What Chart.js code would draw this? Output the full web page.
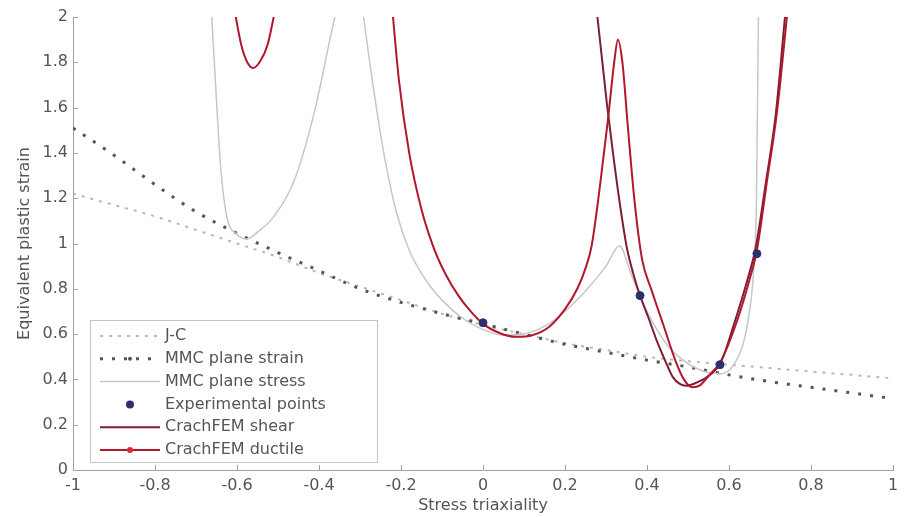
<!DOCTYPE html>
<html>
<head>
<meta charset="utf-8">
<script src="https://cdn.jsdelivr.net/npm/chart.js@4.4.0/dist/chart.umd.min.js"></script>
<style>
  html, body { margin: 0; padding: 0; background: #fff; }
</style>
</head>
<body>
<canvas id="chart" width="909" height="517"></canvas>
<script>
// values (stress triaxiality -> equivalent plastic strain)
const xTicks = [-1, -0.8, -0.6, -0.4, -0.2, 0, 0.2, 0.4, 0.6, 0.8, 1];
const yTicks = [0, 0.2, 0.4, 0.6, 0.8, 1, 1.2, 1.4, 1.6, 1.8, 2];

const jcX = [-1, -0.9, -0.8, -0.7, -0.6, -0.5, -0.4, -0.3, -0.2, -0.1, 0, 0.1, 0.2, 0.3, 0.4, 0.5, 0.6, 0.7, 0.8, 0.9, 1];
const jcY = [1.22, 1.17, 1.12, 1.06, 1.0, 0.94, 0.87, 0.81, 0.75, 0.69, 0.64, 0.6, 0.56, 0.53, 0.5, 0.48, 0.465, 0.45, 0.435, 0.42, 0.405];

const mmcStrainX = [-1, -0.9, -0.8, -0.7, -0.6, -0.5, -0.4, -0.3, -0.2, -0.1, 0, 0.1, 0.2, 0.3, 0.4, 0.5, 0.6, 0.7, 0.8, 0.9, 1];
const mmcStrainY = [1.51, 1.39, 1.26, 1.14, 1.045, 0.96, 0.88, 0.8, 0.74, 0.69, 0.645, 0.6, 0.555, 0.52, 0.485, 0.455, 0.42, 0.39, 0.365, 0.34, 0.315];

// MMC plane stress, compression branch and tension branch
const mmcStressAX = [-0.663, -0.65, -0.64, -0.625, -0.6, -0.576, -0.55, -0.51, -0.46, -0.41, -0.37, -0.355];
const mmcStressAY = [2.05, 1.63, 1.34, 1.12, 1.04, 1.02, 1.05, 1.12, 1.28, 1.59, 1.93, 2.05];
const mmcStressBX = [-0.295, -0.27, -0.24, -0.21, -0.18, -0.14, -0.1, -0.05, 0, 0.05, 0.1, 0.15, 0.2, 0.25, 0.3, 0.333, 0.36, 0.4, 0.45, 0.5, 0.55, 0.58, 0.61, 0.635, 0.65, 0.66, 0.667, 0.672];
const mmcStressBY = [2.05, 1.72, 1.38, 1.13, 0.97, 0.84, 0.75, 0.67, 0.62, 0.595, 0.6, 0.635, 0.7, 0.79, 0.9, 0.99, 0.87, 0.7, 0.55, 0.47, 0.43, 0.425, 0.46, 0.56, 0.7, 0.88, 1.2, 2.05];

const expX = [0, 0.383, 0.578, 0.668];
const expY = [0.65, 0.77, 0.465, 0.955];

const shearX = [0.276, 0.29, 0.302, 0.317, 0.335, 0.351, 0.366, 0.383, 0.404, 0.424, 0.445, 0.463, 0.48, 0.495, 0.52, 0.55, 0.58, 0.615, 0.645, 0.665, 0.69, 0.714, 0.739];
const shearY = [2.05, 1.82, 1.62, 1.4, 1.16, 0.98, 0.87, 0.77, 0.67, 0.57, 0.48, 0.41, 0.38, 0.372, 0.385, 0.415, 0.475, 0.66, 0.84, 0.98, 1.27, 1.57, 2.05];

// CrachFEM ductile, compression branch and main branch
const ductileAX = [-0.608, -0.59, -0.575, -0.561, -0.545, -0.525, -0.505];
const ductileAY = [2.05, 1.88, 1.8, 1.775, 1.8, 1.88, 2.05];
const ductileBX = [-0.222, -0.205, -0.18, -0.15, -0.12, -0.09, -0.06, -0.03, 0, 0.04, 0.08, 0.12, 0.16, 0.2, 0.23, 0.25, 0.265, 0.285, 0.305, 0.32, 0.329, 0.34, 0.354, 0.37, 0.388, 0.41, 0.44, 0.47, 0.49, 0.51, 0.53, 0.55, 0.58, 0.62, 0.65, 0.668, 0.693, 0.717, 0.744];
const ductileBY = [2.05, 1.72, 1.4, 1.15, 0.98, 0.86, 0.77, 0.7, 0.645, 0.605, 0.588, 0.595, 0.63, 0.71, 0.8, 0.89, 0.99, 1.25, 1.55, 1.8, 1.9, 1.8, 1.5, 1.18, 0.93, 0.8, 0.64, 0.48, 0.4, 0.365, 0.375, 0.415, 0.48, 0.66, 0.84, 0.97, 1.28, 1.58, 2.05];

const pts = (xs, ys) => xs.map((x, i) => ({ x, y: ys[i] }));

const FONT = "'DejaVu Sans', sans-serif";
const textColor = "#555";
const axisColor = "#a0a0a0";
const jcColor = "#b8b8b8";
const strainColor = "#555";
const stressColor = "#c4c9c4";
const expColor = "#2e2f6e";
const shearColor = "#7d1f2e";
const ductileColor = "#b3162e";

const lineSet = (data, color, width, dash, order) => ({
  data,
  showLine: true,
  borderColor: color,
  borderWidth: width,
  borderDash: dash,
  pointRadius: 0,
  cubicInterpolationMode: "monotone",
  fill: false,
  order,
});

const legendItems = [
  { label: "J-C", color: jcColor, width: 2, dash: [3, 6] },
  { label: "MMC plane strain", color: strainColor, width: 3, dash: [3, 9], marker: strainColor, markerSize: 2 },
  { label: "MMC plane stress", color: stressColor, width: 1.5, dash: [] },
  { label: "Experimental points", marker: expColor, markerSize: 4 },
  { label: "CrachFEM shear", color: shearColor, width: 2, dash: [] },
  { label: "CrachFEM ductile", color: ductileColor, width: 2, dash: [], marker: "#e0283c", markerSize: 3 },
];

const innerTicks = {
  id: "innerTicks",
  afterDraw(chart) {
    const { ctx, chartArea: a, scales } = chart;
    ctx.save();
    ctx.strokeStyle = axisColor;
    ctx.lineWidth = 1;
    ctx.beginPath();
    xTicks.forEach((v) => {
      const px = Math.round(scales.x.getPixelForValue(v)) + 0.5;
      ctx.moveTo(px, a.bottom);
      ctx.lineTo(px, a.bottom - 5);
    });
    yTicks.forEach((v) => {
      const py = Math.round(scales.y.getPixelForValue(v)) + 0.5;
      ctx.moveTo(a.left, py);
      ctx.lineTo(a.left + 5, py);
    });
    ctx.stroke();
    ctx.restore();
  },
};

// boxed legend sitting inside the plot, bottom left
const boxLegend = {
  id: "boxLegend",
  afterDraw(chart) {
    const { ctx } = chart;
    const left = 90, top = 320, w = 287, h = 142;
    ctx.save();
    ctx.fillStyle = "#fff";
    ctx.fillRect(left, top, w, h);
    ctx.strokeStyle = "#c4c4c4";
    ctx.lineWidth = 1;
    ctx.strokeRect(left + 0.5, top + 0.5, w, h);
    ctx.font = "16px " + FONT;
    ctx.textBaseline = "middle";
    legendItems.forEach((item, i) => {
      const y = top + 16 + i * 22.8;
      if (item.color) {
        ctx.strokeStyle = item.color;
        ctx.lineWidth = item.width;
        ctx.setLineDash(item.dash);
        ctx.beginPath();
        ctx.moveTo(100, y);
        ctx.lineTo(160, y);
        ctx.stroke();
        ctx.setLineDash([]);
      }
      if (item.marker) {
        ctx.fillStyle = item.marker;
        ctx.beginPath();
        ctx.arc(130, y, item.markerSize, 0, Math.PI * 2);
        ctx.fill();
      }
      ctx.fillStyle = textColor;
      ctx.fillText(item.label, 165, y);
    });
    ctx.restore();
  },
};

const fmt = (v) => String(+Number(v).toFixed(1));

new Chart(document.getElementById("chart").getContext("2d"), {
  type: "scatter",
  data: {
    datasets: [
      {
        data: pts(expX, expY),
        pointRadius: 4,
        pointBackgroundColor: expColor,
        pointBorderColor: expColor,
        showLine: false,
        order: 0,
      },
      lineSet(pts(ductileAX, ductileAY), ductileColor, 2, [], 1),
      lineSet(pts(ductileBX, ductileBY), ductileColor, 2, [], 1),
      lineSet(pts(shearX, shearY), shearColor, 2, [], 2),
      lineSet(pts(mmcStressAX, mmcStressAY), stressColor, 1.5, [], 3),
      lineSet(pts(mmcStressBX, mmcStressBY), stressColor, 1.5, [], 3),
      lineSet(pts(mmcStrainX, mmcStrainY), strainColor, 3, [3, 9], 4),
      lineSet(pts(jcX, jcY), jcColor, 2, [3, 6], 5),
    ],
  },
  options: {
    responsive: false,
    animation: false,
    devicePixelRatio: 1,
    layout: { padding: { top: 17, right: 16, left: 0, bottom: 0 } },
    plugins: { legend: { display: false }, tooltip: { enabled: false } },
    scales: {
      x: {
        type: "linear",
        min: -1,
        max: 1,
        afterFit: (scale) => { scale.height = 47; },
        afterBuildTicks: (scale) => { scale.ticks = xTicks.map((v) => ({ value: v })); },
        grid: { drawOnChartArea: false, drawTicks: false },
        border: { display: true, color: axisColor, width: 1 },
        ticks: { padding: 6, color: textColor, font: { family: FONT, size: 16 }, callback: fmt, maxRotation: 0, autoSkip: false },
        title: { display: true, text: "Stress triaxiality", color: textColor, font: { family: FONT, size: 16 }, padding: { top: 0, bottom: 2 } },
      },
      y: {
        type: "linear",
        min: 0,
        max: 2,
        afterFit: (scale) => { scale.width = 73; },
        afterBuildTicks: (scale) => { scale.ticks = yTicks.map((v) => ({ value: v })); },
        grid: { drawOnChartArea: false, drawTicks: false },
        border: { display: true, color: axisColor, width: 1 },
        ticks: { padding: 5, color: textColor, font: { family: FONT, size: 16 }, callback: fmt, autoSkip: false },
        title: { display: true, text: "Equivalent plastic strain", color: textColor, font: { family: FONT, size: 16 }, padding: { top: 15, bottom: 0 } },
      },
    },
  },
  plugins: [innerTicks, boxLegend],
});
</script>
</body>
</html>
